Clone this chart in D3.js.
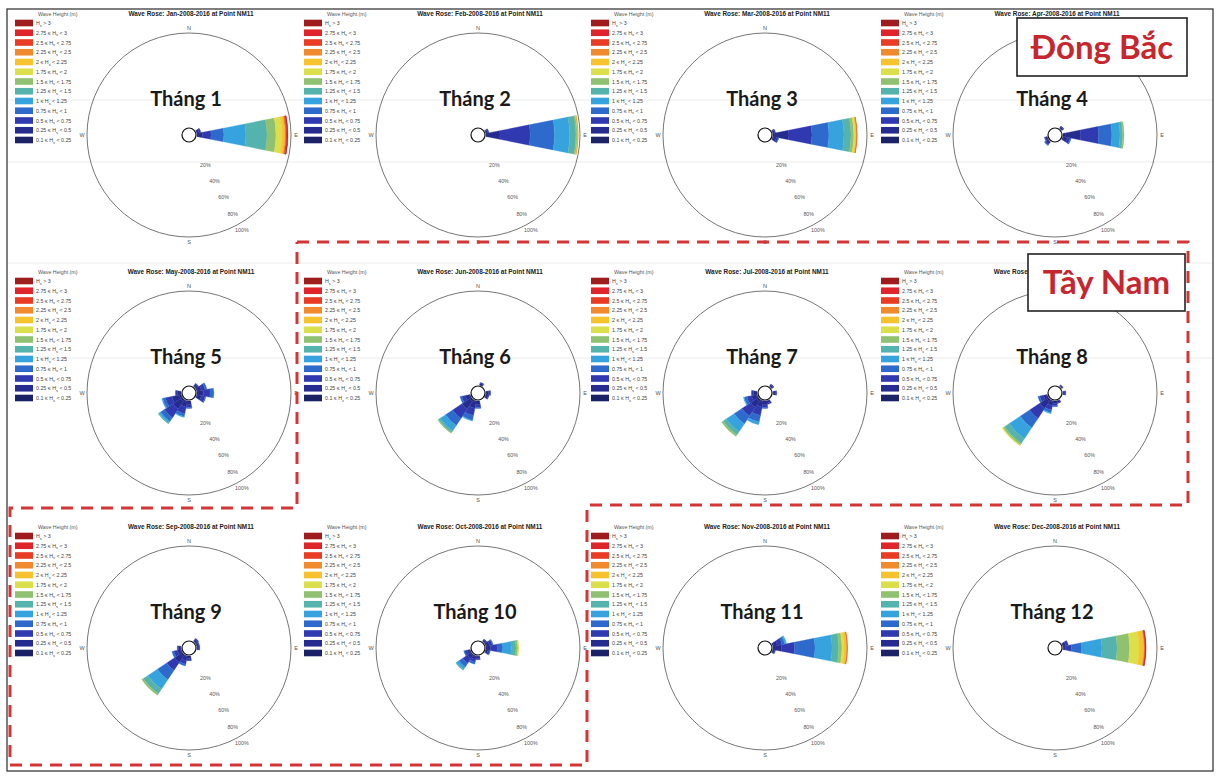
<!DOCTYPE html>
<html>
<head>
<meta charset="utf-8">
<script src="https://cdn.jsdelivr.net/npm/d3@7"></script>
<style>
  body { margin: 0; background: #fff; }
  svg { display: block; }
</style>
</head>
<body>
<div id="chart"></div>
<script>
(function() {
  var width = 1218, height = 778;

  var monthCodes = ["Jan","Feb","Mar","Apr","May","Jun","Jul","Aug","Sep","Oct","Nov","Dec"];
  var monthLabels = ["Tháng 1","Tháng 2","Tháng 3","Tháng 4","Tháng 5","Tháng 6",
                     "Tháng 7","Tháng 8","Tháng 9","Tháng 10","Tháng 11","Tháng 12"];

  // Hs bins, lowest first
  var binLow  = ["0.1","0.25","0.5","0.75","1","1.25","1.5","1.75","2","2.25","2.5","2.75","3"];
  var binHigh = ["0.25","0.5","0.75","1","1.25","1.5","1.75","2","2.25","2.5","2.75","3",null];
  var binColors = ["#1b2266","#252b8f","#3039b0","#2d6acb","#36a3de","#54b3ad","#8fc170",
                   "#dcdf4c","#f6c32f","#ef8b2e","#ea3b24","#e0242b","#9e1b1e"];

  var pctTicks = [20, 40, 60, 80, 100];
  var compass = [["N", 0], ["E", 90], ["S", 180], ["W", 270]];

  // [direction (deg, from N clockwise), frequency % per Hs bin, lowest bin first]
  var jan = [
    [90,   [1, 5, 9, 13.7, 23.3, 22.5, 9.5, 6.4, 3.2, 1.1, 1, 0.6, 0.5]],
    [67.5, [0.5, 2, 2]]
  ];
  var feb = [
    [90,   [1, 14, 32, 26, 16, 6.7, 1.5, 0.5, 0.2, 0.1]],
    [67.5, [0.5, 1.5, 1.5]]
  ];
  var mar = [
    [90,    [2, 15, 24.5, 18, 16, 7.5, 3, 1.5, 1.5, 0.3, 0.1]],
    [112.5, [1, 3, 2, 0.5]],
    [67.5,  [0.5, 1.5, 1]]
  ];
  var apr = [
    [90,    [3, 16, 19, 14, 8.6, 3, 1.4]],
    [112.5, [1, 4, 3, 1]],
    [225,   [1, 2, 1.5, 0.5]],
    [247.5, [0.5, 1.5, 1]],
    [45,    [0.5, 1.5, 1]]
  ];
  var may = [
    [225,   [2, 10, 11, 5, 2, 1]],
    [202.5, [1, 6, 7, 3, 1]],
    [247.5, [2, 8, 7, 3, 1]],
    [180,   [1, 3, 3, 1]],
    [270,   [1, 3, 2]],
    [67.5,  [1, 4, 4, 2]],
    [90,    [1, 6, 7, 4]],
    [112.5, [1, 4, 4, 1]],
    [45,    [0.5, 2, 1.5]]
  ];
  var jun = [
    [225,   [2, 10, 12, 9, 7, 2, 1]],
    [202.5, [1, 7, 8, 5, 1]],
    [247.5, [1, 4, 4, 2]],
    [180,   [1, 3, 3, 1]],
    [90,    [1, 2, 2]],
    [112.5, [0.5, 2, 1]],
    [22.5,  [0.5, 1.5, 1]]
  ];
  var jul = [
    [225,   [2, 8, 11, 10, 10, 4, 2]],
    [202.5, [1, 6, 9, 7, 3]],
    [247.5, [1, 5, 5, 3, 1]],
    [180,   [1, 3, 3, 1]],
    [157.5, [0.5, 2, 1.5]],
    [90,    [0.5, 2, 1.5]],
    [45,    [0.5, 1.5, 1]],
    [270,   [1, 3, 2]]
  ];
  var aug = [
    [225,   [2, 9, 13, 12, 14, 6, 2, 1]],
    [202.5, [1, 4, 5, 3, 1]],
    [247.5, [1, 3, 4, 2]],
    [180,   [1, 2, 2, 1]],
    [157.5, [0.5, 1.5, 1]],
    [90,    [0.5, 1.5, 1]],
    [45,    [0.5, 1, 0.5]]
  ];
  var sep = [
    [225,   [2, 8, 10, 12, 12, 6, 2]],
    [202.5, [1, 4, 4, 2]],
    [247.5, [1, 3, 4, 2]],
    [180,   [1, 2, 2]],
    [270,   [0.5, 2, 1.5]],
    [45,    [0.5, 2, 1.5]],
    [67.5,  [0.5, 1.5, 1]],
    [90,    [0.5, 1.5, 1]]
  ];
  var oct = [
    [90,    [1, 4, 7, 6, 9, 5, 2, 1]],
    [67.5,  [1, 3, 3, 1]],
    [112.5, [0.5, 2, 2, 0.5]],
    [225,   [1, 4, 6, 5, 3, 1]],
    [202.5, [1, 3, 3, 2]],
    [247.5, [1, 2, 3, 1]],
    [180,   [0.5, 2, 1.5]],
    [45,    [0.5, 1.5, 1]]
  ];
  var nov = [
    [90,    [1, 8, 14, 21.7, 18.1, 7.2, 3.4, 2.1, 3.2, 0.3, 0.2]],
    [67.5,  [1, 4, 5, 3, 1.5, 0.5]],
    [112.5, [0.5, 1.5, 1]]
  ];
  var dec = [
    [90,    [0.5, 2.5, 6, 11, 21.5, 16, 13.5, 10, 5, 1, 0.6, 0.4, 0.3]],
    [67.5,  [0.5, 2.5, 3]]
  ];

  var months = [jan, feb, mar, apr, may, jun, jul, aug, sep, oct, nov, dec];

  var colX = [189, 478, 765, 1055],
      rowY = [135, 393, 648];

  var R = 102;
  var rScale = d3.scaleLinear().domain([0, 100]).range([8, R]);
  var toRad = Math.PI / 180;

  var svg = d3.select("#chart")
        .append("svg")
        .attr("width", width)
        .attr("height", height)
        .style("font-family", "'Liberation Sans', Arial, sans-serif");

  // faint scan lines across the sheet
  [100, 162, 263, 358].forEach(function(y) {
    svg.append("line")
      .attr("x1", 8).attr("x2", 1213)
      .attr("y1", y).attr("y2", y)
      .attr("stroke", "#ececec")
      .attr("stroke-width", 1);
  });

  // sheet frame
  svg.append("rect")
    .attr("x", 7).attr("y", 9)
    .attr("width", 1206).attr("height", 762)
    .attr("fill", "none")
    .attr("stroke", "#3a3a3a")
    .attr("stroke-width", 1.3);

  var arc = d3.arc();

  months.forEach(function(sectors, i) {
    var cx = colX[i % 4], cy = rowY[Math.floor(i / 4)];
    var g = svg.append("g").attr("transform", "translate(" + cx + "," + cy + ")");

    // legend
    var lx = -174;
    g.append("text")
      .attr("x", lx + 23).attr("y", -119)
      .attr("font-size", 5.3).attr("fill", "#555")
      .text("Wave Height (m)");

    var leg = g.selectAll(".leg")
      .data(d3.range(binLow.length).reverse())
      .enter().append("g")
      .attr("class", "leg")
      .attr("transform", function(d, k) { return "translate(" + lx + "," + (-112 + k * 9.75) + ")"; });

    leg.append("rect")
      .attr("x", 0).attr("y", -3.3)
      .attr("width", 18).attr("height", 6.6)
      .attr("fill", function(d) { return binColors[d]; });

    var lt = leg.append("text")
      .attr("x", 21).attr("y", 2)
      .attr("font-size", 5.3).attr("fill", "#444");
    lt.each(function(d) {
      var t = d3.select(this);
      if (binHigh[d] === null) {
        t.append("tspan").text("H");
        t.append("tspan").attr("font-size", 3.8).attr("dy", 1.5).text("s");
        t.append("tspan").attr("dy", -1.5).text(" > " + binLow[d]);
      } else {
        t.append("tspan").text(binLow[d] + " \u2264 H");
        t.append("tspan").attr("font-size", 3.8).attr("dy", 1.5).text("s");
        t.append("tspan").attr("dy", -1.5).text(" < " + binHigh[d]);
      }
    });

    // title
    g.append("text")
      .attr("x", 2).attr("y", -119)
      .attr("text-anchor", "middle")
      .attr("font-size", 6.4).attr("font-weight", "bold").attr("fill", "#222")
      .text("Wave Rose: " + monthCodes[i] + "-2008-2016 at Point NM11");

    // outer circle
    g.append("circle")
      .attr("r", R)
      .attr("fill", "none")
      .attr("stroke", "#666")
      .attr("stroke-width", 0.9);

    // compass labels
    compass.forEach(function(c) {
      var rr = R + 5;
      g.append("text")
        .attr("x", Math.sin(c[1] * toRad) * rr)
        .attr("y", -Math.cos(c[1] * toRad) * rr + 2)
        .attr("text-anchor", "middle")
        .attr("font-size", 5.5).attr("fill", "#555")
        .text(c[0]);
    });

    // ring percentages
    pctTicks.forEach(function(p) {
      var rr = rScale(p) + 7, b = 151 * toRad;
      g.append("text")
        .attr("x", Math.sin(b) * rr)
        .attr("y", -Math.cos(b) * rr + 2)
        .attr("text-anchor", "middle")
        .attr("font-size", 5.3).attr("fill", "#555")
        .text(p + "%");
    });

    // sectors
    sectors.forEach(function(s) {
      var cum = 0;
      s[1].forEach(function(v, j) {
        if (v > 0) {
          g.append("path")
            .attr("d", arc({
              innerRadius: rScale(cum),
              outerRadius: rScale(cum + v),
              startAngle: (s[0] - 11.25) * toRad,
              endAngle: (s[0] + 11.25) * toRad
            }))
            .attr("fill", binColors[j])
            .attr("stroke", binColors[j])
            .attr("stroke-width", 0.3);
        }
        cum += v;
      });
    });

    // calm circle
    g.append("circle")
      .attr("r", 7)
      .attr("fill", "#fff")
      .attr("stroke", "#111")
      .attr("stroke-width", 1.2);

    // month label
    g.append("text")
      .attr("x", -3).attr("y", -29)
      .attr("text-anchor", "middle")
      .attr("font-family", "Lato, 'Open Sans', sans-serif")
      .attr("font-weight", "bold")
      .attr("font-size", 20)
      .attr("fill", "#1a1a1a")
      .text(monthLabels[i]);
  });

  // Tay Nam dashed outline
  var outline = [[297,242],[1188,242],[1188,505],[587,505],[587,765],[10,765],[10,508],[297,508],[297,242]];
  svg.append("path")
    .attr("d", d3.line()(outline))
    .attr("fill", "none")
    .attr("stroke", "#d43535")
    .attr("stroke-width", 3)
    .attr("stroke-dasharray", "12,8");

  // season boxes
  var boxes = [
    { label: "Đông Bắc", x: 1017, y: 18, w: 170, h: 58, ty: 59 },
    { label: "Tây Nam",  x: 1028, y: 254, w: 157, h: 57, ty: 294 }
  ];
  boxes.forEach(function(b) {
    svg.append("rect")
      .attr("x", b.x).attr("y", b.y)
      .attr("width", b.w).attr("height", b.h)
      .attr("fill", "#fff")
      .attr("stroke", "#222")
      .attr("stroke-width", 1.6);
    svg.append("text")
      .attr("x", b.x + b.w / 2).attr("y", b.ty)
      .attr("text-anchor", "middle")
      .attr("font-family", "Lato, 'Open Sans', sans-serif")
      .attr("font-weight", "bold")
      .attr("font-size", 33)
      .attr("fill", "#c6262e")
      .text(b.label);
  });
})();
</script>
</body>
</html>
